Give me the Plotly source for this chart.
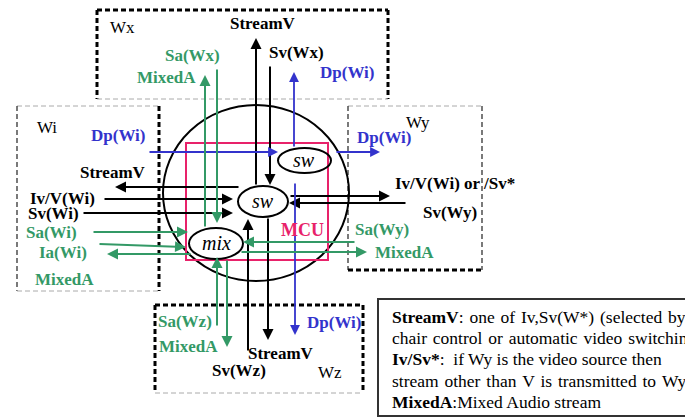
import plotly.graph_objects as go

# ---- text content ----
box_names = ["Wx", "Wi", "Wy", "Wz"]
node_names = ["sw", "sw", "mix"]
mcu_label = "MCU"
black_labels = ["StreamV", "Sv(Wx)", "StreamV", "Iv/V(Wi)", "Sv(Wi)",
                "Iv/V(Wi) or /Sv*", "Sv(Wy)", "StreamV", "Sv(Wz)"]
blue_labels = ["Dp(Wi)", "Dp(Wi)", "Dp(Wi)", "Dp(Wi)"]
green_labels = ["Sa(Wx)", "MixedA", "Sa(Wi)", "Ia(Wi)", "MixedA",
                "Sa(Wy)", "MixedA", "Sa(Wz)", "MixedA"]
legend_lines = [
    "<b>StreamV</b>: one of Iv,Sv(W*) (selected by the",
    "chair control or automatic video switching)",
    "<b>Iv/Sv*</b>:  if Wy is the video source then",
    "stream other than V is transmitted to Wy",
    "<b>MixedA</b>:Mixed Audio stream",
]
# some lines are justified in the original (wider word gaps)
legend_justify = [True, True, False, True, False]

# ---- layout geometry (pixels) ----
W, H = 685, 417
BLACK = "#000000"
BLUE = "#3333cc"
GREEN = "#339966"
PINK = "#e8226a"
GRAY = "#aaaaaa"
FONT = "Liberation Serif"

black_label_pos = [(263, 23), (296, 52), (113, 172), (62, 198), (53, 213),
                   (455, 183), (450, 212), (281, 353), (239, 370)]
blue_label_pos = [(347, 72), (118, 135), (384, 137), (334, 322)]
green_label_pos = [(192, 55), (166, 77), (51, 232), (63, 252), (64, 279),
                   (382, 229), (404, 252), (185, 321), (188, 346)]
box_label_pos = [(122, 27), (47, 127), (418, 122), (330, 372)]
node_pos = [(304, 160, 278, 331, 148, 173),
            (263, 201, 238, 288, 186, 217),
            (216, 243, 189, 243, 228, 259)]

# arrows: (tail_x, tail_y, head_x, head_y)
black_arrows = [
    (256, 186, 256, 38),    # StreamV up to Wx
    (270, 65, 270, 185),    # Sv(Wx) down
    (240, 187, 115, 187),   # StreamV to Wi
    (103, 199, 233, 199),   # Iv/V(Wi)
    (82, 213, 233, 213),    # Sv(Wi)
    (289, 196, 390, 196),   # to Wy
    (407, 203, 289, 203),   # Sv(Wy)
    (268, 217, 268, 340),   # StreamV to Wz
    (248, 352, 248, 219),   # Sv(Wz)
]
blue_arrows = [
    (148, 152, 278, 152),
    (294, 148, 294, 72),
    (335, 152, 380, 152),
    (295, 182, 295, 335),
]
green_arrows = [
    (205, 228, 205, 75),    # MixedA up to Wx
    (217, 68, 217, 223),    # Sa(Wx) down
    (92, 232, 188, 232),    # Sa(Wi)
    (98, 244, 186, 247),    # Ia(Wi)
    (192, 254, 107, 254),   # MixedA to Wi
    (356, 242, 243, 242),   # Sa(Wy)
    (240, 252, 367, 252),   # MixedA to Wy
    (217, 327, 217, 257),   # Sa(Wz)
    (227, 259, 227, 347),   # MixedA to Wz
]

THICK = dict(color=BLACK, width=3, dash="5px,3px")
THIN_G = dict(color=GRAY, width=1, dash="5px,3px")
THIN_B = dict(color="#222222", width=1.2, dash="5px,3px")

box_edges = [
    # Wx
    (97, 10, 388, 10, THICK), (97, 10, 97, 99, THICK), (388, 10, 388, 99, THICK),
    (97, 99, 388, 99, THIN_G),
    # Wi
    (17, 106, 159, 106, THIN_G), (17, 106, 17, 291, THIN_B),
    (159, 106, 159, 291, THICK), (17, 291, 159, 291, THIN_G),
    # Wy
    (348, 106, 482, 106, THIN_G), (348, 106, 348, 270, THIN_B),
    (482, 106, 482, 270, THIN_B), (348, 270, 482, 270, THICK),
    # Wz
    (155, 305, 363, 305, THICK), (155, 305, 155, 393, THICK),
    (363, 305, 363, 393, THICK), (155, 393, 363, 393, THIN_G),
]

fig = go.Figure()
fig.add_trace(go.Scatter(x=[0, W], y=[0, H], mode="markers",
                         marker=dict(opacity=0), hoverinfo="skip",
                         showlegend=False))

shapes = []
for x0, y0, x1, y1, ln in box_edges:
    shapes.append(dict(type="line", xref="x", yref="y", x0=x0, y0=y0,
                       x1=x1, y1=y1, line=ln))
# big circle
shapes.append(dict(type="circle", xref="x", yref="y", x0=163, x1=349,
                   y0=105, y1=281, line=dict(color=BLACK, width=2)))
# MCU rectangle
shapes.append(dict(type="rect", xref="x", yref="y", x0=186, x1=328,
                   y0=143, y1=260, line=dict(color=PINK, width=2)))
# legend box
shapes.append(dict(type="rect", xref="x", yref="y", x0=378, x1=700,
                   y0=299, y1=416, line=dict(color="#333333", width=2)))
# node ellipses
for (cx, cy, x0, x1, y0, y1) in node_pos:
    shapes.append(dict(type="circle", xref="x", yref="y", x0=x0, x1=x1,
                       y0=y0, y1=y1, line=dict(color=BLACK, width=2),
                       fillcolor="rgba(255,255,255,0)", layer="above"))

annotations = []


def arrow(t, color, width, size):
    tx, ty, hx, hy = t
    annotations.append(dict(x=hx, y=hy, ax=tx, ay=ty, xref="x", yref="y",
                            axref="x", ayref="y", text="", showarrow=True,
                            arrowhead=2, arrowsize=size, arrowwidth=width,
                            arrowcolor=color, standoff=0, startstandoff=0))


for a in black_arrows:
    arrow(a, BLACK, 2, 1.1)
for a in blue_arrows:
    arrow(a, BLUE, 1.8, 1.1)
for a in green_arrows:
    arrow(a, GREEN, 2, 1.1)


def label(txt, pos, color, size=17, bold=True, italic=False, anchor="center"):
    t = txt
    if bold:
        t = "<b>" + t + "</b>"
    if italic:
        t = "<i>" + t + "</i>"
    annotations.append(dict(x=pos[0], y=pos[1], xref="x", yref="y", text=t,
                            showarrow=False, xanchor=anchor, yanchor="middle",
                            font=dict(family=FONT, size=size, color=color)))


for t, p in zip(black_labels, black_label_pos):
    label(t, p, BLACK)
for t, p in zip(blue_labels, blue_label_pos):
    label(t, p, BLUE)
for t, p in zip(green_labels, green_label_pos):
    label(t, p, GREEN)
for t, p in zip(box_names, box_label_pos):
    label(t, p, BLACK, bold=False)
for t, p in zip(node_names, node_pos):
    label(t, (p[0], p[1]), BLACK, size=20, bold=False, italic=True)
label(mcu_label, (302, 230), PINK, size=18)

legend_y = [317, 338, 359, 381, 402]
for t, y, j in zip(legend_lines, legend_y, legend_justify):
    if j:
        t = t.replace(" ", " \u200a")
    annotations.append(dict(x=390, y=y, xref="x", yref="y", text=t,
                            showarrow=False, xanchor="left", yanchor="middle",
                            font=dict(family=FONT, size=17.5, color=BLACK)))

fig.update_layout(
    width=W, height=H,
    margin=dict(l=0, r=0, t=0, b=0),
    paper_bgcolor="white", plot_bgcolor="white",
    xaxis=dict(range=[0, W], visible=False, fixedrange=True),
    yaxis=dict(range=[H, 0], visible=False, fixedrange=True),
    shapes=shapes, annotations=annotations, showlegend=False,
)

fig.write_html("out.html", config={"displayModeBar": False},
               post_script="document.body.style.margin='0';"
                           "document.body.style.overflow='hidden';")
